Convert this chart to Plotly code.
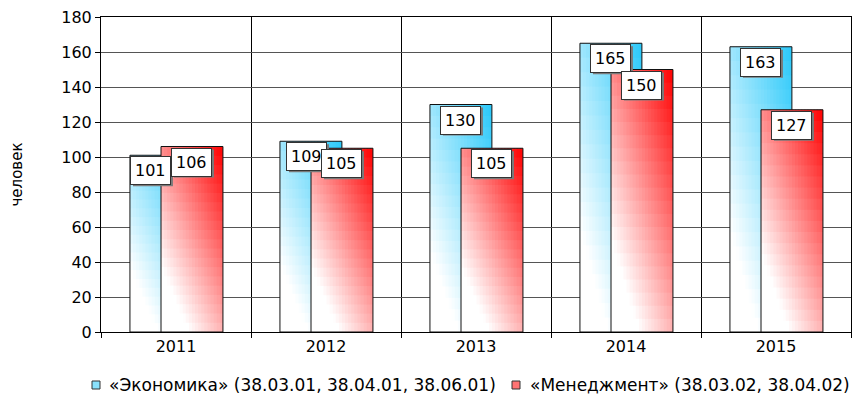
import plotly.graph_objects as go

years = ["2011", "2012", "2013", "2014", "2015"]
econ = [101, 109, 130, 165, 163]
mgmt = [106, 105, 105, 150, 127]
econ_name = "«Экономика» (38.03.01, 38.04.01, 38.06.01)"
mgmt_name = "«Менеджмент» (38.03.02, 38.04.02)"
y_title = "человек"

FONT = "DejaVu Sans"
W, H = 852, 400
ML, MR, MT, MB = 101, 1, 17, 68
PW, PH = W - ML - MR, H - MT - MB
xs = list(range(len(years)))
BAR_W = 0.413
OFF_E = -0.307
OFF_M = -0.10
N_STRIP = 20
N_SEG = 20


def mix(c, t):
    t = max(0.0, min(1.0, t))
    r = round(255 + (c[0] - 255) * t)
    g = round(255 + (c[1] - 255) * t)
    b = round(255 + (c[2] - 255) * t)
    return f"rgb({r},{g},{b})"


def px_x(p):
    return (p - ML) / PW


def px_y(p):
    return (H - MB - p) / PH


fig = go.Figure()


def add_series(vals, off, full):
    sw = BAR_W / N_STRIP
    for i in range(N_STRIP):
        u = (i + 0.5) / N_STRIP
        for k in range(N_SEG):
            v = (k + 0.5) / N_SEG
            t = 0.55 * u + 0.7 * v - 0.25
            base = [val * k / N_SEG for val in vals]
            top = [min(val, val * (k + 1.1) / N_SEG) for val in vals]
            fig.add_trace(go.Bar(
                x=xs, y=[tp - b for tp, b in zip(top, base)], base=base,
                offset=off + i * sw, width=min(sw * 1.3, BAR_W - i * sw),
                marker=dict(color=mix(full, t), line=dict(width=0)),
                showlegend=False, hoverinfo="skip",
            ))
    fig.add_trace(go.Bar(
        x=xs, y=vals, offset=off, width=BAR_W,
        marker=dict(color="rgba(0,0,0,0)", line=dict(color="#111", width=1)),
        showlegend=False, hoverinfo="skip",
    ))


BLUE = (40, 200, 250)
RED = (255, 0, 0)
add_series(econ, OFF_E, BLUE)
add_series(mgmt, OFF_M, RED)

label_nudge = {(0, 0): -10, (0, 1): -4}
for s, (vals, off) in enumerate(((econ, OFF_E), (mgmt, OFF_M))):
    for x, v in zip(xs, vals):
        cx = x + off + BAR_W / 2
        dx = label_nudge.get((s, x), 0)
        # drop shadow of the label box
        fig.add_shape(type="rect", xref="x", yref="y", layer="above",
                      xsizemode="pixel", ysizemode="pixel", xanchor=cx, yanchor=v,
                      x0=dx - 18, x1=dx + 22, y0=-31, y1=-3,
                      fillcolor="#7a7a7a", line=dict(width=0))
        fig.add_annotation(x=cx, y=v, yanchor="top", text=str(v), showarrow=False,
                           xshift=dx, yshift=-1,
                           font=dict(family=FONT, size=16, color="#000"),
                           bgcolor="#fff", bordercolor="#333", borderwidth=1, borderpad=4)

# y-axis title
fig.add_annotation(xref="paper", yref="paper", x=px_x(16), y=0.5, text=y_title,
                   textangle=-90, showarrow=False, xanchor="center", yanchor="middle",
                   font=dict(family=FONT, size=15, color="#000"))

# legend (manual)
LEG_Y = 385
for sw_x, tx_x, col, name in ((92, 107, BLUE, econ_name), (512, 528, RED, mgmt_name)):
    fig.add_shape(type="rect", xref="paper", yref="paper",
                  x0=px_x(sw_x), x1=px_x(sw_x + 8), y0=px_y(LEG_Y + 4), y1=px_y(LEG_Y - 4),
                  fillcolor=mix(col, 0.55), line=dict(color="#333", width=1))
    fig.add_annotation(xref="paper", yref="paper", x=px_x(tx_x), y=px_y(LEG_Y),
                       xanchor="left", yanchor="middle", text=name, showarrow=False,
                       font=dict(family=FONT, size=17, color="#000"))

fig.update_layout(
    width=W, height=H,
    margin=dict(l=ML, r=MR, t=MT, b=MB),
    barmode="overlay",
    paper_bgcolor="#fff", plot_bgcolor="#fff",
    font=dict(family=FONT, size=15, color="#000"),
    showlegend=False,
    xaxis=dict(range=[-0.5, len(years) - 0.5], tickvals=xs, ticktext=years,
               showgrid=False, zeroline=False, ticks="", showline=True,
               linecolor="#000", mirror=True, automargin=False,
               tickfont=dict(family=FONT, size=16),
               minor=dict(tick0=-0.5, dtick=1, showgrid=True, gridcolor="#000", gridwidth=1,
                          ticks="outside", ticklen=5, tickcolor="#000")),
    yaxis=dict(range=[0, 180], dtick=20, showgrid=True, gridcolor="#555", gridwidth=1,
               zeroline=False, showline=True, linecolor="#000", mirror=True,
               ticks="outside", ticklen=5, tickcolor="#000", automargin=False,
               tickfont=dict(family=FONT, size=16)),
)

fig.write_html("out.html", config={"displayModeBar": False},
               post_script="document.body.style.margin='0px';")
